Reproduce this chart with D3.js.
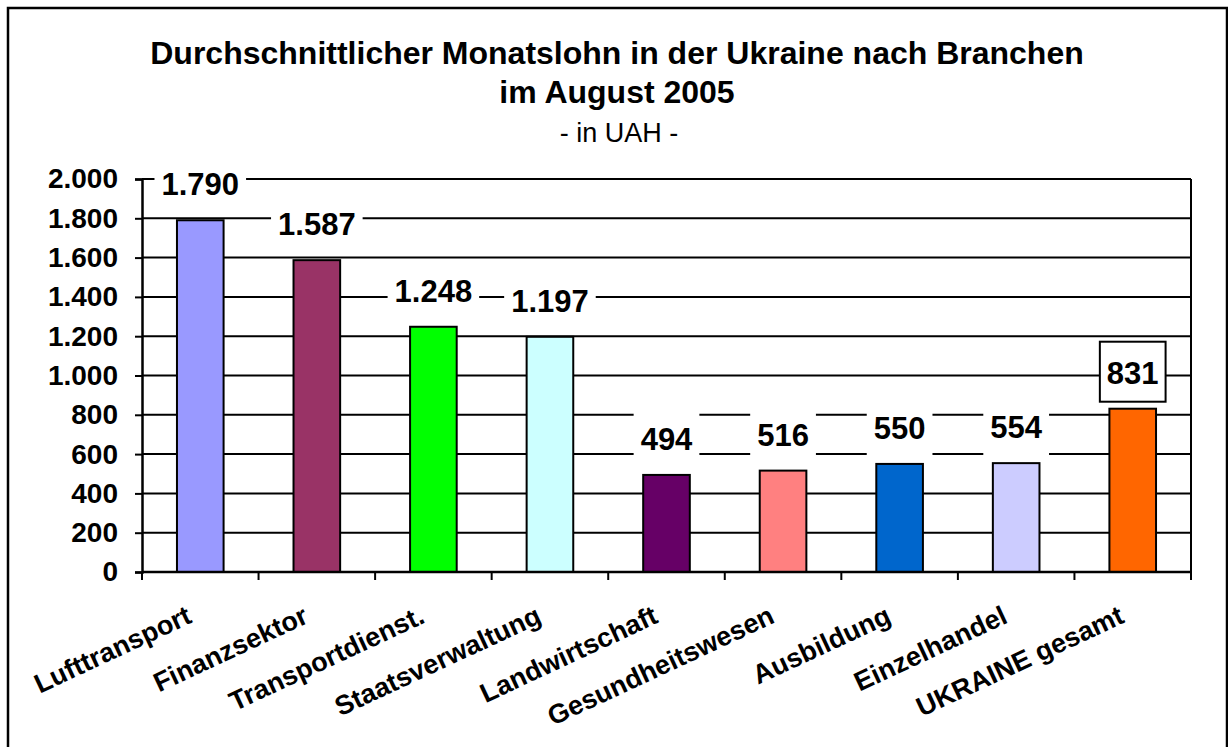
<!DOCTYPE html>
<html>
<head>
<meta charset="utf-8">
<script src="https://cdn.jsdelivr.net/npm/d3@7"></script>
<style>
  html, body { margin: 0; padding: 0; background: #fff; }
  svg { display: block; font-family: Arial, 'Liberation Sans', sans-serif; }
</style>
</head>
<body>
<svg id="chart" width="1228" height="747"></svg>
<script>
// values (UAH, August 2005)
const branches = ['Lufttransport', 'Finanzsektor', 'Transportdienst.', 'Staatsverwaltung',
  'Landwirtschaft', 'Gesundheitswesen', 'Ausbildung', 'Einzelhandel', 'UKRAINE gesamt'];
const wages = [1790, 1587, 1248, 1197, 494, 516, 550, 554, 831];
const barColors = ['#9999ff', '#993366', '#00ff00', '#ccffff', '#660066',
  '#ff8080', '#0066cc', '#ccccff', '#ff6600'];
const yTicks = [0, 200, 400, 600, 800, 1000, 1200, 1400, 1600, 1800, 2000];
const titleLines = ['Durchschnittlicher Monatslohn in der Ukraine nach Branchen', 'im August 2005'];
const subTitle = '- in UAH -';

const de = d3.formatLocale({ decimal: ',', thousands: '.', grouping: [3], currency: ['', ' UAH'] });
const fmt = de.format(',d');

const svg = d3.select('#chart');
const plot = { left: 142, right: 1191, top: 179, bottom: 572 };

// outer frame
svg.append('rect').attr('x', 8).attr('y', 8).attr('width', 1219).attr('height', 760)
  .attr('fill', '#fff').attr('stroke', '#000').attr('stroke-width', 2.5);

// title
const title = svg.append('text').attr('text-anchor', 'middle').attr('fill', '#000');
titleLines.forEach((t, i) => {
  title.append('tspan').attr('x', 617).attr('y', 64 + i * 39)
    .attr('font-size', 32).attr('font-weight', 'bold').text(t);
});
title.append('tspan').attr('x', 619).attr('y', 142).attr('font-size', 27).text(subTitle);

const x = d3.scaleBand().domain(branches).range([plot.left, plot.right]).paddingInner(0.6).paddingOuter(0.3);
const y = d3.scaleLinear().domain([0, 2000]).range([plot.bottom, plot.top]);

// gridlines
svg.append('g').selectAll('line').data(yTicks.slice(1)).join('line')
  .attr('x1', plot.left).attr('x2', plot.right)
  .attr('y1', d => y(d)).attr('y2', d => y(d))
  .attr('stroke', '#000').attr('stroke-width', 2);

// right plot border
svg.append('line').attr('x1', plot.right).attr('x2', plot.right)
  .attr('y1', plot.top).attr('y2', plot.bottom).attr('stroke', '#000').attr('stroke-width', 2);

// bars
svg.append('g').selectAll('rect').data(wages).join('rect')
  .attr('x', (d, i) => x(branches[i]))
  .attr('y', d => y(d))
  .attr('width', x.bandwidth())
  .attr('height', d => y(0) - y(d))
  .attr('fill', (d, i) => barColors[i])
  .attr('stroke', '#000').attr('stroke-width', 2);

// y axis
const yAxis = svg.append('g').attr('transform', `translate(${plot.left},0)`)
  .call(d3.axisLeft(y).tickValues(yTicks).tickSize(7).tickPadding(17).tickFormat(fmt));
yAxis.select('.domain').attr('stroke', '#000').attr('stroke-width', 2.5);
yAxis.selectAll('.tick line').attr('stroke', '#000').attr('stroke-width', 2);
yAxis.selectAll('.tick text').attr('font-size', 28).attr('font-weight', 'bold')
  .attr('font-family', "Arial, 'Liberation Sans', sans-serif").attr('fill', '#000');

// x axis with ticks on category boundaries
const bounds = d3.range(branches.length + 1).map(i => plot.left + i * (plot.right - plot.left) / branches.length);
svg.append('line').attr('x1', plot.left).attr('x2', plot.right)
  .attr('y1', plot.bottom).attr('y2', plot.bottom).attr('stroke', '#000').attr('stroke-width', 2.5);
svg.append('g').selectAll('line').data(bounds).join('line')
  .attr('x1', d => d).attr('x2', d => d)
  .attr('y1', plot.bottom).attr('y2', plot.bottom + 8)
  .attr('stroke', '#000').attr('stroke-width', 2);

// category labels, rotated
svg.append('g').selectAll('text').data(branches).join('text')
  .attr('transform', d => `translate(${x(d) + x.bandwidth() / 2 - 7},${plot.bottom + 50}) rotate(-25)`)
  .attr('text-anchor', 'end')
  .attr('font-size', 27).attr('font-weight', 'bold').attr('fill', '#000')
  .text(d => d);

// value labels on white boxes
const lab = svg.append('g').selectAll('g').data(wages).join('g')
  .attr('transform', (d, i) => `translate(${x(branches[i]) + x.bandwidth() / 2},${y(d) - 25})`);
const labText = lab.append('text').attr('text-anchor', 'middle')
  .attr('font-size', 31).attr('font-weight', 'bold').attr('fill', '#000')
  .text(d => fmt(d));
lab.insert('rect', 'text')
  .each(function (d, i) {
    const w = labText.nodes()[i].getComputedTextLength() + 14;
    d3.select(this).attr('x', -w / 2).attr('width', w);
  })
  .attr('y', -42).attr('height', 60)
  .attr('fill', '#fff')
  .attr('stroke', (d, i) => i === branches.length - 1 ? '#000' : 'none')
  .attr('stroke-width', 2);
</script>
</body>
</html>
